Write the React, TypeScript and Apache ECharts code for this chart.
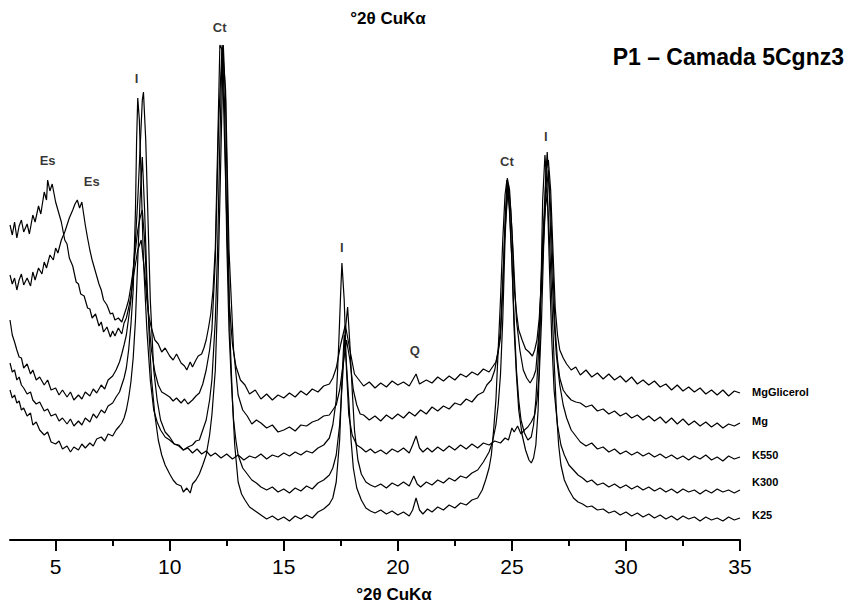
import React, { useEffect, useRef } from "react";
import * as echarts from "echarts";

// °2θ positions and intensities (arbitrary counts, stacked traces)
const mgGlicerol: number[][] = [[3,315],[3.1,305],[3.2,318],[3.3,302],[3.4,314],[3.5,320],[3.6,308],[3.75,316],[3.85,306],[4,325],[4.1,318],[4.25,334],[4.35,326],[4.5,348],[4.6,340],[4.65,360],[4.75,349],[4.85,356],[5,338],[5.1,330],[5.25,318],[5.4,300],[5.5,296],[5.6,282],[5.75,274],[5.9,258],[6,256],[6.1,246],[6.25,244],[6.4,232],[6.5,231],[6.6,222],[6.75,226],[6.9,214],[7,218],[7.1,208],[7.25,213],[7.4,203],[7.5,209],[7.6,204],[7.75,212],[7.9,206],[8,217],[8.1,222],[8.2,232],[8.3,244],[8.4,262],[8.5,276],[8.6,290],[8.75,300],[8.9,268],[9,240],[9.1,222],[9.2,212],[9.35,200],[9.5,196],[9.65,188],[9.8,192],[10,184],[10.15,180],[10.3,186],[10.5,177],[10.65,174],[10.75,170],[10.9,178],[11,173],[11.15,180],[11.25,184],[11.4,186],[11.5,192],[11.6,200],[11.7,212],[11.8,226],[11.9,250],[12,292],[12.1,390],[12.2,495],[12.3,490],[12.45,360],[12.6,240],[12.75,196],[12.9,174],[13.1,160],[13.3,155],[13.5,146],[13.75,150],[14,141],[14.25,146],[14.5,140],[14.75,145],[15,142],[15.25,147],[15.5,143],[15.75,149],[16,145],[16.25,151],[16.5,148],[16.75,154],[17,156],[17.15,162],[17.3,172],[17.5,196],[17.7,215],[17.9,190],[18.1,166],[18.3,160],[18.5,154],[18.75,158],[19,152],[19.25,157],[19.5,153],[19.75,159],[20,155],[20.25,158],[20.5,154],[20.8,166],[20.95,156],[21.25,160],[21.5,157],[21.75,163],[22,159],[22.25,164],[22.5,160],[22.75,166],[23,163],[23.25,168],[23.5,165],[23.75,171],[24,168],[24.15,173],[24.3,178],[24.4,188],[24.5,202],[24.6,250],[24.7,320],[24.8,362],[24.9,350],[25,310],[25.1,252],[25.2,228],[25.3,210],[25.45,200],[25.6,191],[25.75,188],[25.9,184],[26,190],[26.1,200],[26.2,222],[26.3,262],[26.4,320],[26.5,370],[26.6,380],[26.7,350],[26.8,290],[26.9,232],[27,205],[27.1,190],[27.25,182],[27.4,176],[27.6,170],[27.8,173],[28,165],[28.25,170],[28.5,163],[28.75,167],[29,161],[29.25,166],[29.5,160],[29.75,164],[30,158],[30.25,163],[30.5,156],[30.75,160],[31,155],[31.25,159],[31.5,153],[31.75,156],[32,150],[32.25,155],[32.5,149],[32.75,153],[33,148],[33.25,152],[33.5,146],[33.75,150],[34,145],[34.25,150],[34.5,144],[34.75,149],[35,147]];

const mg: number[][] = [[3,265],[3.1,256],[3.2,262],[3.3,250],[3.4,260],[3.5,266],[3.6,255],[3.75,262],[3.9,254],[4,268],[4.1,260],[4.25,272],[4.4,266],[4.5,278],[4.6,272],[4.75,285],[4.9,280],[5,292],[5.1,287],[5.25,300],[5.4,308],[5.5,315],[5.6,322],[5.75,330],[5.85,336],[5.95,340],[6.05,332],[6.15,338],[6.3,315],[6.4,302],[6.5,290],[6.6,280],[6.75,268],[6.9,256],[7,250],[7.1,240],[7.25,235],[7.4,226],[7.5,227],[7.6,220],[7.75,222],[7.9,218],[8,225],[8.1,232],[8.2,240],[8.3,254],[8.4,270],[8.5,290],[8.6,310],[8.7,322],[8.8,330],[8.9,300],[9,250],[9.1,215],[9.2,190],[9.35,168],[9.5,155],[9.65,148],[9.8,146],[10,143],[10.15,139],[10.3,142],[10.5,137],[10.65,141],[10.8,136],[11,140],[11.15,144],[11.3,147],[11.45,156],[11.6,170],[11.75,190],[11.85,210],[12,280],[12.15,420],[12.3,495],[12.45,450],[12.6,290],[12.8,190],[13,145],[13.2,130],[13.4,124],[13.6,116],[13.8,120],[14,117],[14.25,112],[14.5,115],[14.75,108],[15,110],[15.25,113],[15.5,109],[15.75,115],[16,114],[16.25,118],[16.5,120],[16.75,124],[17,125],[17.15,130],[17.3,135],[17.45,150],[17.6,175],[17.75,200],[17.9,180],[18.05,150],[18.2,135],[18.35,126],[18.5,125],[18.75,120],[19,124],[19.25,119],[19.5,125],[19.75,121],[20,126],[20.25,122],[20.5,128],[20.75,124],[21,130],[21.25,126],[21.5,133],[21.75,129],[22,134],[22.25,131],[22.5,137],[22.75,135],[23,141],[23.25,138],[23.5,145],[23.75,148],[23.9,155],[24.1,160],[24.25,170],[24.4,190],[24.5,210],[24.6,260],[24.7,310],[24.85,355],[24.95,330],[25.05,290],[25.2,220],[25.35,190],[25.5,170],[25.65,162],[25.8,157],[25.95,163],[26.05,170],[26.2,210],[26.35,280],[26.5,345],[26.6,370],[26.7,330],[26.8,270],[26.9,210],[27,180],[27.1,162],[27.25,150],[27.4,145],[27.6,140],[27.8,138],[28,137],[28.25,133],[28.5,135],[28.75,129],[29,131],[29.25,126],[29.5,129],[29.75,124],[30,127],[30.25,122],[30.5,125],[30.75,120],[31,124],[31.25,119],[31.5,123],[31.75,117],[32,122],[32.25,116],[32.5,121],[32.75,115],[33,119],[33.25,114],[33.5,118],[33.75,113],[34,117],[34.25,112],[34.5,116],[34.75,114],[35,117]];

const k550: number[][] = [[3,220],[3.1,205],[3.2,198],[3.3,190],[3.4,183],[3.5,182],[3.6,172],[3.75,176],[3.9,166],[4,170],[4.15,160],[4.3,163],[4.5,155],[4.65,160],[4.8,150],[5,152],[5.15,145],[5.3,150],[5.5,143],[5.65,148],[5.8,140],[6,145],[6.15,141],[6.3,148],[6.5,144],[6.65,151],[6.8,147],[7,155],[7.15,151],[7.3,160],[7.5,164],[7.65,170],[7.8,178],[7.9,186],[8,195],[8.1,205],[8.2,222],[8.3,240],[8.4,270],[8.5,300],[8.6,340],[8.7,390],[8.8,440],[8.85,448],[8.95,400],[9.05,320],[9.15,240],[9.3,170],[9.45,140],[9.6,120],[9.8,108],[10,103],[10.2,96],[10.4,95],[10.6,90],[10.8,92],[11,87],[11.2,91],[11.4,86],[11.6,89],[11.8,84],[12,87],[12.25,82],[12.5,86],[12.75,81],[13,85],[13.25,80],[13.5,84],[13.75,82],[14,86],[14.25,81],[14.5,85],[14.75,83],[15,87],[15.25,84],[15.5,88],[15.75,85],[16,89],[16.25,87],[16.5,92],[16.75,95],[17,102],[17.15,115],[17.3,140],[17.4,190],[17.5,250],[17.55,277],[17.65,240],[17.75,170],[17.85,125],[18,105],[18.2,95],[18.4,92],[18.6,88],[18.8,91],[19,87],[19.25,90],[19.5,86],[19.75,91],[20,88],[20.25,92],[20.5,87],[20.65,95],[20.8,104],[20.95,92],[21.1,88],[21.3,92],[21.5,88],[21.75,93],[22,89],[22.25,94],[22.5,90],[22.75,95],[23,91],[23.25,96],[23.5,92],[23.75,97],[24,95],[24.25,99],[24.5,97],[24.7,102],[24.85,100],[25,112],[25.1,108],[25.25,114],[25.4,106],[25.55,110],[25.7,113],[25.85,118],[26,125],[26.1,140],[26.2,165],[26.3,220],[26.4,300],[26.5,370],[26.55,388],[26.65,340],[26.75,270],[26.85,220],[26.95,185],[27.1,155],[27.25,135],[27.4,122],[27.6,110],[27.8,104],[28,98],[28.25,94],[28.5,97],[28.75,91],[29,93],[29.25,88],[29.5,91],[29.75,86],[30,89],[30.25,85],[30.5,88],[30.75,84],[31,87],[31.25,83],[31.5,86],[31.75,82],[32,85],[32.25,81],[32.5,84],[32.75,80],[33,84],[33.25,81],[33.5,85],[33.75,80],[34,83],[34.25,79],[34.5,84],[34.75,81],[35,83]];

const k300: number[][] = [[3,177],[3.1,168],[3.2,170],[3.3,160],[3.4,163],[3.5,155],[3.6,152],[3.75,146],[3.9,148],[4,140],[4.15,136],[4.3,138],[4.5,129],[4.65,131],[4.8,124],[5,126],[5.15,119],[5.3,122],[5.5,116],[5.65,121],[5.8,114],[6,119],[6.15,115],[6.3,122],[6.5,118],[6.65,126],[6.8,122],[7,130],[7.15,127],[7.3,134],[7.5,137],[7.65,143],[7.8,148],[7.9,155],[8,162],[8.1,172],[8.2,190],[8.3,215],[8.4,250],[8.5,330],[8.55,400],[8.6,442],[8.67,420],[8.75,360],[8.85,280],[9,210],[9.15,160],[9.3,130],[9.45,118],[9.6,110],[9.8,103],[10,100],[10.2,96],[10.4,94],[10.6,90],[10.8,93],[11,95],[11.15,99],[11.3,100],[11.45,110],[11.6,120],[11.75,140],[11.85,160],[12,220],[12.1,290],[12.2,400],[12.3,492],[12.4,440],[12.5,300],[12.6,210],[12.7,160],[12.8,120],[12.9,100],[13,85],[13.2,72],[13.4,66],[13.6,60],[13.8,57],[14,53],[14.25,50],[14.5,53],[14.75,48],[15,51],[15.25,47],[15.5,52],[15.75,49],[16,54],[16.25,51],[16.5,57],[16.75,60],[17,65],[17.15,72],[17.3,85],[17.45,115],[17.6,170],[17.7,210],[17.8,233],[17.9,195],[18,150],[18.1,110],[18.25,80],[18.4,66],[18.6,58],[18.8,55],[19,53],[19.25,56],[19.5,52],[19.75,57],[20,54],[20.25,58],[20.5,54],[20.7,64],[20.85,56],[21,53],[21.25,58],[21.5,55],[21.75,60],[22,57],[22.25,62],[22.5,59],[22.75,64],[23,62],[23.25,67],[23.5,70],[23.75,78],[24,88],[24.15,98],[24.3,115],[24.4,135],[24.5,165],[24.6,220],[24.7,300],[24.8,355],[24.9,330],[25,280],[25.1,210],[25.2,165],[25.3,130],[25.45,105],[25.6,90],[25.75,80],[25.85,77],[25.95,82],[26.05,95],[26.15,130],[26.25,220],[26.35,340],[26.45,385],[26.55,350],[26.65,270],[26.75,200],[26.85,150],[27,115],[27.15,95],[27.3,85],[27.5,75],[27.7,70],[27.9,65],[28.1,62],[28.3,58],[28.5,60],[28.75,55],[29,57],[29.25,53],[29.5,56],[29.75,52],[30,55],[30.25,51],[30.5,54],[30.75,50],[31,53],[31.25,49],[31.5,52],[31.75,48],[32,51],[32.25,47],[32.5,51],[32.75,48],[33,50],[33.25,46],[33.5,50],[33.75,47],[34,51],[34.25,48],[34.5,50],[34.75,47],[35,50]];

const k25: number[][] = [[3,150],[3.1,142],[3.2,145],[3.3,137],[3.4,139],[3.5,130],[3.6,132],[3.75,124],[3.9,127],[4,115],[4.15,118],[4.3,110],[4.5,105],[4.65,108],[4.8,98],[5,96],[5.15,99],[5.3,91],[5.5,94],[5.65,88],[5.8,93],[6,90],[6.15,96],[6.3,92],[6.5,97],[6.65,94],[6.8,101],[7,103],[7.15,99],[7.3,106],[7.5,104],[7.65,110],[7.8,114],[7.9,117],[8,122],[8.1,130],[8.2,142],[8.3,158],[8.4,182],[8.5,220],[8.6,280],[8.7,340],[8.8,383],[8.9,330],[9,262],[9.1,205],[9.2,162],[9.35,125],[9.5,100],[9.65,85],[9.8,75],[10,66],[10.15,60],[10.3,56],[10.5,54],[10.6,48],[10.75,52],[10.9,47],[11,56],[11.15,60],[11.3,66],[11.45,75],[11.6,85],[11.75,105],[11.85,125],[12,170],[12.1,240],[12.2,340],[12.35,495],[12.45,440],[12.55,310],[12.65,200],[12.75,140],[12.85,95],[13,58],[13.15,46],[13.3,40],[13.5,33],[13.75,29],[14,25],[14.25,21],[14.5,24],[14.75,20],[15,23],[15.25,19],[15.5,24],[15.75,21],[16,25],[16.25,22],[16.5,28],[16.75,31],[17,36],[17.15,42],[17.3,58],[17.45,100],[17.55,160],[17.65,205],[17.75,175],[17.85,140],[17.95,100],[18.05,72],[18.2,52],[18.4,40],[18.6,32],[18.8,29],[19,27],[19.25,30],[19.5,26],[19.75,29],[20,25],[20.25,28],[20.5,24],[20.65,30],[20.8,42],[20.95,30],[21.1,26],[21.3,31],[21.5,28],[21.75,33],[22,30],[22.25,35],[22.5,32],[22.75,37],[23,35],[23.25,40],[23.5,42],[23.7,50],[23.85,60],[24,72],[24.1,85],[24.2,110],[24.3,140],[24.4,190],[24.5,240],[24.6,300],[24.7,345],[24.78,360],[24.88,335],[25,280],[25.1,220],[25.2,170],[25.3,140],[25.4,120],[25.55,107],[25.7,100],[25.85,103],[25.95,115],[26.05,140],[26.15,180],[26.25,240],[26.35,300],[26.45,330],[26.55,345],[26.65,300],[26.75,240],[26.85,180],[26.95,130],[27.05,95],[27.15,75],[27.3,60],[27.5,50],[27.7,42],[27.9,38],[28.1,36],[28.3,33],[28.5,34],[28.75,30],[29,31],[29.25,27],[29.5,29],[29.75,25],[30,28],[30.25,24],[30.5,27],[30.75,23],[31,26],[31.25,22],[31.5,25],[31.75,21],[32,24],[32.25,20],[32.5,24],[32.75,21],[33,23],[33.25,19],[33.5,23],[33.75,20],[34,22],[34.25,19],[34.5,23],[34.75,20],[35,22]];

const seriesNames = ["MgGlicerol", "Mg", "K550", "K300", "K25"];
const peakLabels: (number | string)[][] = [
  [4.65, 380, "Es"], [6.58, 359, "Es"], [8.55, 462, "I"], [12.19, 513, "Ct"],
  [17.54, 293, "I"], [20.75, 190, "Q"], [24.78, 379, "Ct"], [26.49, 404, "I"],
];
const majorTicks = [5, 10, 15, 20, 25, 30, 35];
const minorTicks = [7.5, 12.5, 17.5, 22.5, 27.5, 32.5];
const axisTitle = "°2θ CuKα";
const chartTitle = "P1 – Camada 5Cgnz3";

const FONT = "Liberation Sans, Arial, sans-serif";

export default function App() {
  const ref = useRef<HTMLDivElement>(null);
  useEffect(() => {
    document.body.style.margin = "0";
    if (!ref.current) return;
    const chart = echarts.init(ref.current, undefined, { renderer: "svg" });
    const traces = [mgGlicerol, mg, k550, k300, k25];
    const labelOffsets = [[0, -1], [0, -2], [0, -2], [0, -8], [0, -3]];
    const axisTextStyle = { text: axisTitle, fontSize: 17, fontWeight: "bold", fill: "#000", fontFamily: FONT, align: "center", verticalAlign: "middle" };
    chart.setOption({
      animation: false,
      backgroundColor: "#fff",
      textStyle: { fontFamily: FONT },
      title: {
        text: chartTitle,
        right: 8,
        top: 40,
        textStyle: { fontSize: 23, fontWeight: "bold", color: "#000", fontFamily: FONT },
      },
      graphic: [
        { type: "text", x: 388, y: 18, style: axisTextStyle },
        { type: "text", x: 394, y: 594, style: axisTextStyle },
      ],
      grid: { left: 10, right: 117, top: 0, bottom: 68, containLabel: false },
      xAxis: [
        {
          type: "value",
          min: 3,
          max: 35,
          axisLine: { show: true, onZero: false, lineStyle: { color: "#000", width: 2 } },
          axisTick: { show: true, customValues: majorTicks, length: 11, lineStyle: { color: "#000", width: 2 } },
          axisLabel: { show: true, customValues: majorTicks, fontSize: 21, color: "#000", margin: 16, fontFamily: FONT },
          splitLine: { show: false },
        },
        {
          type: "value",
          min: 3,
          max: 35,
          position: "bottom",
          axisLine: { show: false },
          axisTick: { show: true, customValues: minorTicks, length: 6, lineStyle: { color: "#000", width: 2 } },
          axisLabel: { show: false },
          splitLine: { show: false },
        },
      ],
      yAxis: { type: "value", min: 0, max: 540, show: false },
      series: [
        ...traces.map((d, i) => ({
          name: seriesNames[i],
          type: "line",
          data: d,
          showSymbol: false,
          symbol: "none",
          silent: true,
          lineStyle: { color: "#000", width: 1.2 },
          endLabel: {
            show: true,
            formatter: "{a}",
            color: "#000",
            fontWeight: "bold",
            fontSize: 11,
            distance: 12,
            offset: labelOffsets[i],
            fontFamily: FONT,
          },
        })),
        {
          type: "scatter",
          data: peakLabels,
          symbolSize: 1,
          itemStyle: { color: "rgba(0,0,0,0)" },
          silent: true,
          label: {
            show: true,
            position: "inside",
            formatter: (p: any) => p.value[2],
            color: "#000",
            fontWeight: "bold",
            fontSize: 13,
            fontFamily: FONT,
          },
        },
      ],
    });
    return () => chart.dispose();
  }, []);
  return <div ref={ref} style={{ width: 857, height: 608 }} />;
}
